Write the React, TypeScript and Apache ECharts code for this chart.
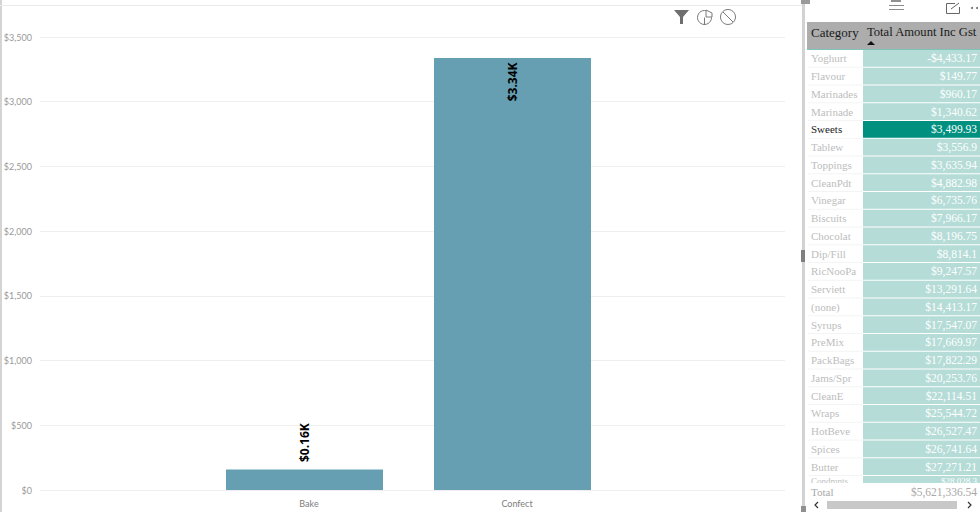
import React, { useEffect, useRef } from "react";
import * as echarts from "echarts";

const categories = ["Bake", "Confect"];
const amounts = [158, 3338];
const barLabels = ["$0.16K", "$3.34K"];
const yTicks = { min: 0, max: 3500, step: 500 };

const tableCategories = ["Yoghurt", "Flavour", "Marinades", "Marinade", "Sweets", "Tablew", "Toppings", "CleanPdt", "Vinegar", "Biscuits", "Chocolat", "Dip/Fill", "RicNooPa", "Serviett", "(none)", "Syrups", "PreMix", "PackBags", "Jams/Spr", "CleanE", "Wraps", "HotBeve", "Spices", "Butter", "Condmnts"];
const tableValues = ["-$4,433.17", "$149.77", "$960.17", "$1,340.62", "$3,499.93", "$3,556.9", "$3,635.94", "$4,882.98", "$6,735.76", "$7,966.17", "$8,196.75", "$8,814.1", "$9,247.57", "$13,291.64", "$14,413.17", "$17,547.07", "$17,669.97", "$17,822.29", "$20,253.76", "$22,114.51", "$25,544.72", "$26,527.47", "$26,741.64", "$27,271.21", "$28,028.3"];
const selectedCategory = "Sweets";
const tableHeaders = ["Category", "Total Amount Inc Gst"];
const totalLabel = "Total";
const totalValue = "$5,621,336.54";

const SERIF = '"Liberation Serif", serif';

function tableGraphics() {
  const out: any[] = [];
  const rowTop = 50;
  const pitch = 17.75;
  tableCategories.forEach((name, i) => {
    const y = rowTop + i * pitch;
    const sel = name === selectedCategory;
    const clipped = i === tableCategories.length - 1;
    const textY = clipped ? 481 : y + 8.4;
    const size = clipped ? 9 : 11;
    out.push({ type: "rect", shape: { x: 863, y, width: 117, height: pitch - 1 }, style: { fill: sel ? "#00907f" : "#b5dcd7" } });
    out.push({ type: "line", shape: { x1: 808, y1: y + pitch - 0.5, x2: 862, y2: y + pitch - 0.5 }, style: { stroke: "#f4f4f4", lineWidth: 1 } });
    out.push({ type: "text", style: { text: name, x: 811, y: textY, font: `${size}px ${SERIF}`, fill: sel ? "#222222" : "#bdbdbd", textAlign: "left", textVerticalAlign: "middle" } });
    out.push({ type: "text", style: { text: tableValues[i], x: 977, y: textY, font: `${clipped ? 9 : 11.5}px ${SERIF}`, fill: "#ffffff", textAlign: "right", textVerticalAlign: "middle" } });
  });
  // footer covers the clipped last row
  out.push({ type: "rect", shape: { x: 806, y: 483, width: 174, height: 29 }, style: { fill: "#ffffff" } });
  out.push({ type: "text", style: { text: totalLabel, x: 811, y: 492, font: `11px ${SERIF}`, fill: "#a8a8a8", textAlign: "left", textVerticalAlign: "middle" } });
  out.push({ type: "text", style: { text: totalValue, x: 977, y: 492, font: `11.5px ${SERIF}`, fill: "#a8a8a8", textAlign: "right", textVerticalAlign: "middle" } });
  out.push({ type: "rect", shape: { x: 827, y: 501, width: 130, height: 8 }, style: { fill: "#c8c8c8" } });
  out.push({ type: "polyline", shape: { points: [[818, 502], [815, 505], [818, 508]] }, style: { stroke: "#333", fill: "none", lineWidth: 1.2 } });
  out.push({ type: "polyline", shape: { points: [[968, 502], [971, 505], [968, 508]] }, style: { stroke: "#333", fill: "none", lineWidth: 1.2 } });
  // header
  out.push({ type: "rect", shape: { x: 807, y: 22, width: 173, height: 27 }, style: { fill: "#adadad" } });
  out.push({ type: "line", shape: { x1: 807, y1: 49.5, x2: 980, y2: 49.5 }, style: { stroke: "#7fc4bb", lineWidth: 1 } });
  out.push({ type: "text", style: { text: tableHeaders[0], x: 811, y: 32, font: `13px ${SERIF}`, fill: "#1a1a1a", textAlign: "left", textVerticalAlign: "middle" } });
  out.push({ type: "text", style: { text: tableHeaders[1], x: 867, y: 32, font: `12.6px ${SERIF}`, fill: "#1a1a1a", textAlign: "left", textVerticalAlign: "middle" } });
  out.push({ type: "polygon", shape: { points: [[867, 45], [871, 41], [875, 45]] }, style: { fill: "#111" } });
  return out;
}

function chromeGraphics() {
  const stroke = "#7a7a7a";
  return [
    { type: "rect", shape: { x: 0, y: 0, width: 2, height: 512 }, style: { fill: "#d4d4d4" } },
    { type: "line", shape: { x1: 0, y1: 5.5, x2: 802, y2: 5.5 }, style: { stroke: "#ececec", lineWidth: 1 } },
    { type: "rect", shape: { x: 802, y: 0, width: 3, height: 512 }, style: { fill: "#d2d2d2" } },
    { type: "rect", shape: { x: 801, y: 250, width: 4, height: 12 }, style: { fill: "#808080" } },
    { type: "rect", shape: { x: 801, y: 506, width: 10, height: 6 }, style: { fill: "#909090" } },
    { type: "rect", shape: { x: 801, y: 0, width: 9, height: 4 }, style: { fill: "#9a9a9a" } },
    { type: "rect", shape: { x: 891, y: 0, width: 10, height: 2 }, style: { fill: "#909090" } },
    { type: "rect", shape: { x: 890, y: 509, width: 12, height: 3 }, style: { fill: "#9a9a9a" } },
    // focus-bar glyphs
    { type: "line", shape: { x1: 889, y1: 5.5, x2: 904, y2: 5.5 }, style: { stroke: "#8a8a8a", lineWidth: 1 } },
    { type: "line", shape: { x1: 889, y1: 9.5, x2: 904, y2: 9.5 }, style: { stroke: "#8a8a8a", lineWidth: 1 } },
    { type: "polyline", shape: { points: [[955, 3.5], [946.5, 3.5], [946.5, 13.5], [959.5, 13.5], [959.5, 7]] }, style: { stroke: "#666", fill: "none", lineWidth: 1 } },
    { type: "line", shape: { x1: 951, y1: 9, x2: 959, y2: 3 }, style: { stroke: "#666", lineWidth: 1 } },
    { type: "circle", shape: { cx: 972, cy: 8, r: 1 }, style: { fill: "#666" } },
    { type: "circle", shape: { cx: 977, cy: 8, r: 1 }, style: { fill: "#666" } },
    // visual-interaction icons
    { type: "polygon", shape: { points: [[674, 10], [689, 10], [683, 17], [683, 24], [680, 24], [680, 17]] }, style: { fill: "#6e6e6e" } },
    { type: "circle", shape: { cx: 704.5, cy: 17.5, r: 7 }, style: { fill: "none", stroke, lineWidth: 1 } },
    { type: "line", shape: { x1: 704.5, y1: 17.5, x2: 704.5, y2: 25 }, style: { stroke, lineWidth: 1 } },
    { type: "polygon", shape: { points: [[706, 10], [712, 13], [712, 17], [706, 17]] }, style: { fill: "#ffffff", stroke, lineWidth: 1 } },
    { type: "circle", shape: { cx: 728, cy: 17, r: 7.5 }, style: { fill: "none", stroke, lineWidth: 1 } },
    { type: "line", shape: { x1: 723, y1: 12, x2: 733, y2: 22 }, style: { stroke, lineWidth: 1 } },
  ];
}

export default function App() {
  const ref = useRef<HTMLDivElement>(null);
  useEffect(() => {
    const chart = echarts.init(ref.current!, undefined, { renderer: "svg" });
    chart.setOption({
      animation: false,
      backgroundColor: "#ffffff",
      grid: [
        { left: 40, right: 195, top: 37, bottom: 22 },
        { left: 200.5, width: 416, top: 37, bottom: 22 },
      ],
      xAxis: [
        { gridIndex: 0, type: "category", data: [""], show: false },
        {
          gridIndex: 1,
          type: "category",
          data: categories,
          axisLine: { show: false },
          axisTick: { show: false },
          axisLabel: { color: "#7d7d7d", fontFamily: "Lato", fontSize: 9, margin: 9, padding: [0, 0, 0, 9] },
        },
      ],
      yAxis: [
        {
          gridIndex: 0,
          type: "value",
          min: yTicks.min,
          max: yTicks.max,
          interval: yTicks.step,
          axisLine: { show: false },
          axisTick: { show: false },
          axisLabel: { color: "#999999", fontFamily: "Lato", fontSize: 9, margin: 8, formatter: (v: number) => "$" + v.toLocaleString("en-US") },
          splitLine: { lineStyle: { color: "#eeeeee", width: 1 } },
        },
        { gridIndex: 1, type: "value", min: yTicks.min, max: yTicks.max, interval: yTicks.step, show: false },
      ],
      series: [
        {
          type: "bar",
          xAxisIndex: 1,
          yAxisIndex: 1,
          barWidth: 157,
          itemStyle: { color: "#669fb2" },
          data: amounts.map((value, i) => ({
            value,
            label: {
              show: true,
              formatter: barLabels[i],
              rotate: 90,
              position: value > 1000 ? "insideTop" : "top",
              align: value > 1000 ? "right" : "left",
              verticalAlign: "middle",
              distance: 6,
              offset: [1.5, 0],
              color: "#000000",
              fontFamily: "Open Sans",
              fontWeight: "bold",
              fontSize: 12,
            },
          })),
        },
      ],
      graphic: { elements: [...chromeGraphics(), ...tableGraphics()] },
    });
    return () => chart.dispose();
  }, []);
  return <div ref={ref} style={{ position: "absolute", left: 0, top: 0, width: 980, height: 512 }} />;
}
